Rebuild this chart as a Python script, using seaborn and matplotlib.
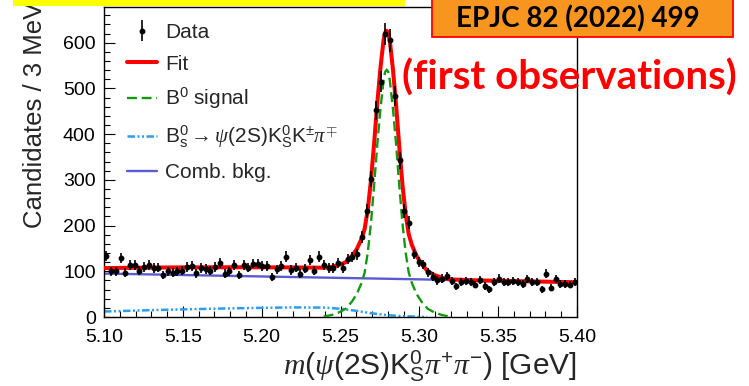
import numpy as np
import matplotlib
matplotlib.use("Agg")
import matplotlib.pyplot as plt
import seaborn as sns
from matplotlib.patches import Rectangle
from matplotlib.ticker import MultipleLocator

# ---------------- data ----------------
bin_width = 0.003
bin_centers = np.arange(5.1015, 5.40, bin_width)
counts = [133, 100, 100, 129, 97, 113, 113, 101, 109, 114,
          107, 108, 92, 100, 97, 100, 101, 110, 111, 96,
          107, 105, 101, 109, 119, 95, 100, 114, 92, 113,
          108, 117, 117, 111, 111, 87, 104, 111, 132, 103,
          108, 95, 106, 124, 101, 132, 113, 107, 107, 119,
          107, 127, 131, 137, 175, 231, 302, 452, 515, 619,
          605, 483, 343, 231, 206, 138, 120, 115, 98, 88,
          80, 84, 90, 78, 67, 77, 79, 77, 71, 81,
          68, 61, 77, 84, 77, 77, 78, 77, 72, 83,
          77, 77, 61, 95, 64, 83, 72, 72, 71, 77]
errors = np.sqrt(counts)

comb_x = [5.10, 5.40]
comb_y = [95.0, 76.0]

bs_x = [5.10, 5.13, 5.16, 5.19, 5.22, 5.24, 5.25, 5.26, 5.27, 5.28, 5.29, 5.30, 5.305]
bs_y = [12.0, 15.0, 17.5, 19.5, 21.0, 20.5, 18.0, 13.5, 8.0, 4.0, 1.6, 0.4, 0.0]

sig_x = [5.2393, 5.2443, 5.2493, 5.2533, 5.2573, 5.2603, 5.2633, 5.2653, 5.2673,
         5.2693, 5.2713, 5.2733, 5.2753, 5.2773, 5.2783, 5.2793, 5.2803, 5.2813,
         5.2833, 5.2853, 5.2873, 5.2893, 5.2913, 5.2933, 5.2953, 5.2983, 5.3013,
         5.3053, 5.3093, 5.3143, 5.3193]
sig_y = [1.1, 4.3, 10.5, 18, 34, 50, 74, 97, 141,
         205, 287, 376, 454, 517, 536, 541, 536, 517,
         454, 376, 287, 205, 141, 97, 74, 50, 34,
         18, 10.5, 4.3, 1.1]

fit_x = [5.100, 5.130, 5.160, 5.190, 5.220, 5.2393, 5.2443, 5.2493, 5.2533, 5.2573,
         5.2603, 5.2633, 5.2653, 5.2673, 5.2693, 5.2713, 5.2733, 5.2753, 5.2773, 5.2783,
         5.2793, 5.2803, 5.2813, 5.2833, 5.2853, 5.2873, 5.2893, 5.2913, 5.2933, 5.2953,
         5.2983, 5.3013, 5.3053, 5.3093, 5.3143, 5.3193, 5.340, 5.370, 5.400]
fit_y = [107.0, 108.1, 108.7, 108.8, 108.4, 107.8, 109.5, 114.2, 119.8, 133.7,
         148.3, 170.6, 192.5, 235.2, 298.0, 378.7, 466.5, 543.4, 605.4, 622.0,
         626.0, 621.0, 603.9, 540.2, 461.5, 372.0, 289.5, 225.1, 180.6, 157.3,
         132.9, 116.5, 100.1, 92.2, 85.7, 82.2, 79.8, 77.9, 76.0]

x_ticks = [5.10, 5.15, 5.20, 5.25, 5.30, 5.35, 5.40]
y_ticks = [0, 100, 200, 300, 400, 500, 600]

labels = ["Data", "Fit", r"B$^0$ signal",
          r"B$_\mathrm{s}^0\rightarrow\psi$(2S)K$_\mathrm{S}^0$K$^{\pm}\pi^{\mp}$",
          "Comb. bkg."]

# ---------------- style ----------------
sns.set_style("ticks")
plt.rcParams["font.family"] = ["Liberation Sans", "DejaVu Sans"]
plt.rcParams["mathtext.fontset"] = "custom"
plt.rcParams["mathtext.rm"] = "Liberation Sans"
plt.rcParams["mathtext.it"] = "Liberation Serif:italic"
plt.rcParams["mathtext.bf"] = "Liberation Sans:bold"
plt.rcParams["mathtext.sf"] = "Liberation Sans"

W, H = 749, 386
fig = plt.figure(figsize=(W / 100, H / 100), dpi=100)
ax_l, ax_r, ax_t, ax_b = 104, 577, 7, 317
ax = fig.add_axes([ax_l / W, 1 - ax_b / H, (ax_r - ax_l) / W, (ax_b - ax_t) / H])
ax.set_facecolor("white")

# components
sns.lineplot(x=comb_x, y=comb_y, ax=ax, color="#5a5ad2", linewidth=1.7, zorder=2)
comb_line = ax.lines[-1]
sns.lineplot(x=bs_x, y=bs_y, ax=ax, color="#2a9df4", linewidth=1.8, zorder=2, sort=False)
bs_line = ax.lines[-1]
bs_line.set_dashes([3.0, 1.0, 0.8, 1.0, 0.8, 1.0])
sns.lineplot(x=fit_x, y=fit_y, ax=ax, color="#ff0000", linewidth=2.9, zorder=3, sort=False)
fit_line = ax.lines[-1]
sns.lineplot(x=sig_x, y=sig_y, ax=ax, color="#129912", linewidth=1.7, zorder=4, sort=False)
sig_line = ax.lines[-1]
sig_line.set_dashes([4.2, 2.0])

eb = ax.errorbar(bin_centers, counts, yerr=errors, fmt="o", color="black",
                 markersize=3.2, elinewidth=1.2, capsize=0, zorder=5)

ax.set_xlim(5.10, 5.40)
ax.set_ylim(0, 678)
ax.set_xticks(x_ticks)
ax.set_xticklabels([f"{v:.2f}" for v in x_ticks])
ax.set_yticks(y_ticks)
ax.xaxis.set_minor_locator(MultipleLocator(0.01))
ax.yaxis.set_minor_locator(MultipleLocator(20))
ax.tick_params(which="both", direction="in", top=False, right=False,
               width=0.8, colors="black", labelsize=14)
ax.tick_params(which="major", length=8)
ax.tick_params(which="minor", length=4)
ax.tick_params(axis="x", pad=8.5)
ax.tick_params(axis="y", pad=6)
for s in ax.spines.values():
    s.set_linewidth(1.0)
    s.set_color("black")

ax.set_ylabel("Candidates / 3 MeV", fontsize=18.5, loc="top")
ax.yaxis.set_label_coords(-0.12, 1.016)
ax.set_xlabel(r"$m(\psi(\mathrm{2S})\mathrm{K}^0_\mathrm{S}\pi^{+}\pi^{-})$ [GeV]",
              fontsize=21.5, loc="right")
ax.xaxis.set_label_coords(1.0, -0.1)

leg = ax.legend([eb, fit_line, sig_line, bs_line, comb_line], labels,
                loc="upper left", bbox_to_anchor=(0.048, 0.948), frameon=False,
                fontsize=15, handlelength=1.45, handletextpad=0.4,
                labelspacing=0.6, borderaxespad=0, borderpad=0)

# ---------------- slide decorations ----------------
fig.add_artist(Rectangle((13 / W, 1 - 6 / H), (405 - 13) / W, 6 / H,
                         transform=fig.transFigure, facecolor="#ffff00",
                         edgecolor="none", zorder=6))
fig.add_artist(Rectangle((432 / W, 1 - 37 / H), (733 - 432) / W, 40 / H,
                         transform=fig.transFigure, facecolor="#f7951f",
                         edgecolor="#ff0000", linewidth=1.3, zorder=6))
fig.text(578 / W, 1 - 27 / H, "EPJC 82 (2022) 499", fontsize=20, fontweight="bold",
         family=["Lato", "DejaVu Sans"], color="black", ha="center", va="baseline",
         zorder=7)
fig.text(569 / W, 1 - 90 / H, "(first observations)", fontsize=29, fontweight="bold",
         family=["Lato", "DejaVu Sans"], color="#ff0000", ha="center", va="baseline",
         zorder=7)

fig.savefig("out.png", dpi=100, facecolor="white")
